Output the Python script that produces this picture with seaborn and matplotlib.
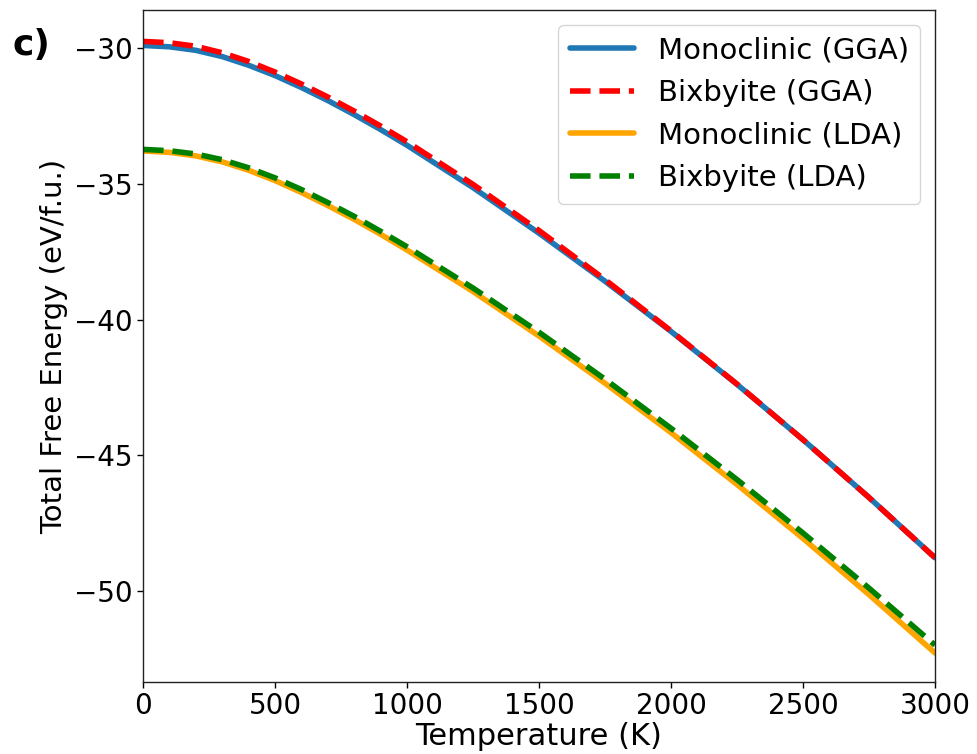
import matplotlib
matplotlib.use("Agg")
import matplotlib.pyplot as plt
import seaborn as sns
import pandas as pd

temperature = [0, 100, 200, 300, 400, 500, 600, 700, 800, 900, 1000, 1250, 1500, 1750, 2000, 2250, 2500, 2750, 3000]
mono_gga = [-29.89, -29.94, -30.07, -30.30, -30.62, -31.00, -31.44, -31.92, -32.44, -32.99, -33.57, -35.13, -36.81, -38.58, -40.43, -42.38, -44.42, -46.55, -48.77]
bix_gga = [-29.74, -29.79, -29.92, -30.16, -30.48, -30.87, -31.31, -31.79, -32.31, -32.86, -33.44, -35.01, -36.71, -38.52, -40.41, -42.37, -44.42, -46.55, -48.77]
mono_lda = [-33.78, -33.83, -33.96, -34.18, -34.49, -34.87, -35.31, -35.79, -36.30, -36.85, -37.43, -38.96, -40.60, -42.34, -44.16, -46.07, -48.06, -50.13, -52.28]
bix_lda = [-33.72, -33.77, -33.89, -34.10, -34.40, -34.77, -35.20, -35.68, -36.19, -36.74, -37.31, -38.83, -40.46, -42.19, -44.00, -45.89, -47.86, -49.89, -51.99]

labels = ["Monoclinic (GGA)", "Bixbyite (GGA)", "Monoclinic (LDA)", "Bixbyite (LDA)"]
series = [mono_gga, bix_gga, mono_lda, bix_lda]
colors = ["#1f77b4", "red", "orange", "green"]
styles = ["-", "--", "-", "--"]

sns.set_style("white")
plt.rcParams["font.family"] = ["DejaVu Sans"]
plt.rcParams.update({"text.color": "black", "axes.labelcolor": "black",
                     "xtick.color": "black", "ytick.color": "black"})

fig = plt.figure(figsize=(9.77, 7.54), dpi=100)
ax = fig.add_axes([0.1464, 0.0955, 0.8106, 0.891])

for lab, vals, col, ls in zip(labels, series, colors, styles):
    df = pd.DataFrame({"T": temperature, "G": vals})
    sns.lineplot(data=df, x="T", y="G", ax=ax, color=col, linestyle=ls,
                 linewidth=4, label=lab)

ax.set_xlim(0, 3000)
ax.set_ylim(-53.35, -28.59)
ax.set_xticks([0, 500, 1000, 1500, 2000, 2500, 3000])
ax.set_yticks([-50, -45, -40, -35, -30])
ax.tick_params(axis="both", labelsize=20, direction="out", length=4, width=1, left=True, bottom=True)
ax.set_xlabel("Temperature (K)", fontsize=22, labelpad=1)
ax.set_ylabel("Total Free Energy (eV/f.u.)", fontsize=21)
for s in ax.spines.values():
    s.set_color("#222222")
    s.set_linewidth(1)

leg = ax.legend(loc="upper right", fontsize=21, handlelength=2.2, frameon=True)
leg.get_frame().set_edgecolor("#cccccc")

fig.text(0.013, 0.940, "c)", fontsize=26, fontweight="bold", va="center", ha="left")

fig.savefig("out.png", dpi=100)
